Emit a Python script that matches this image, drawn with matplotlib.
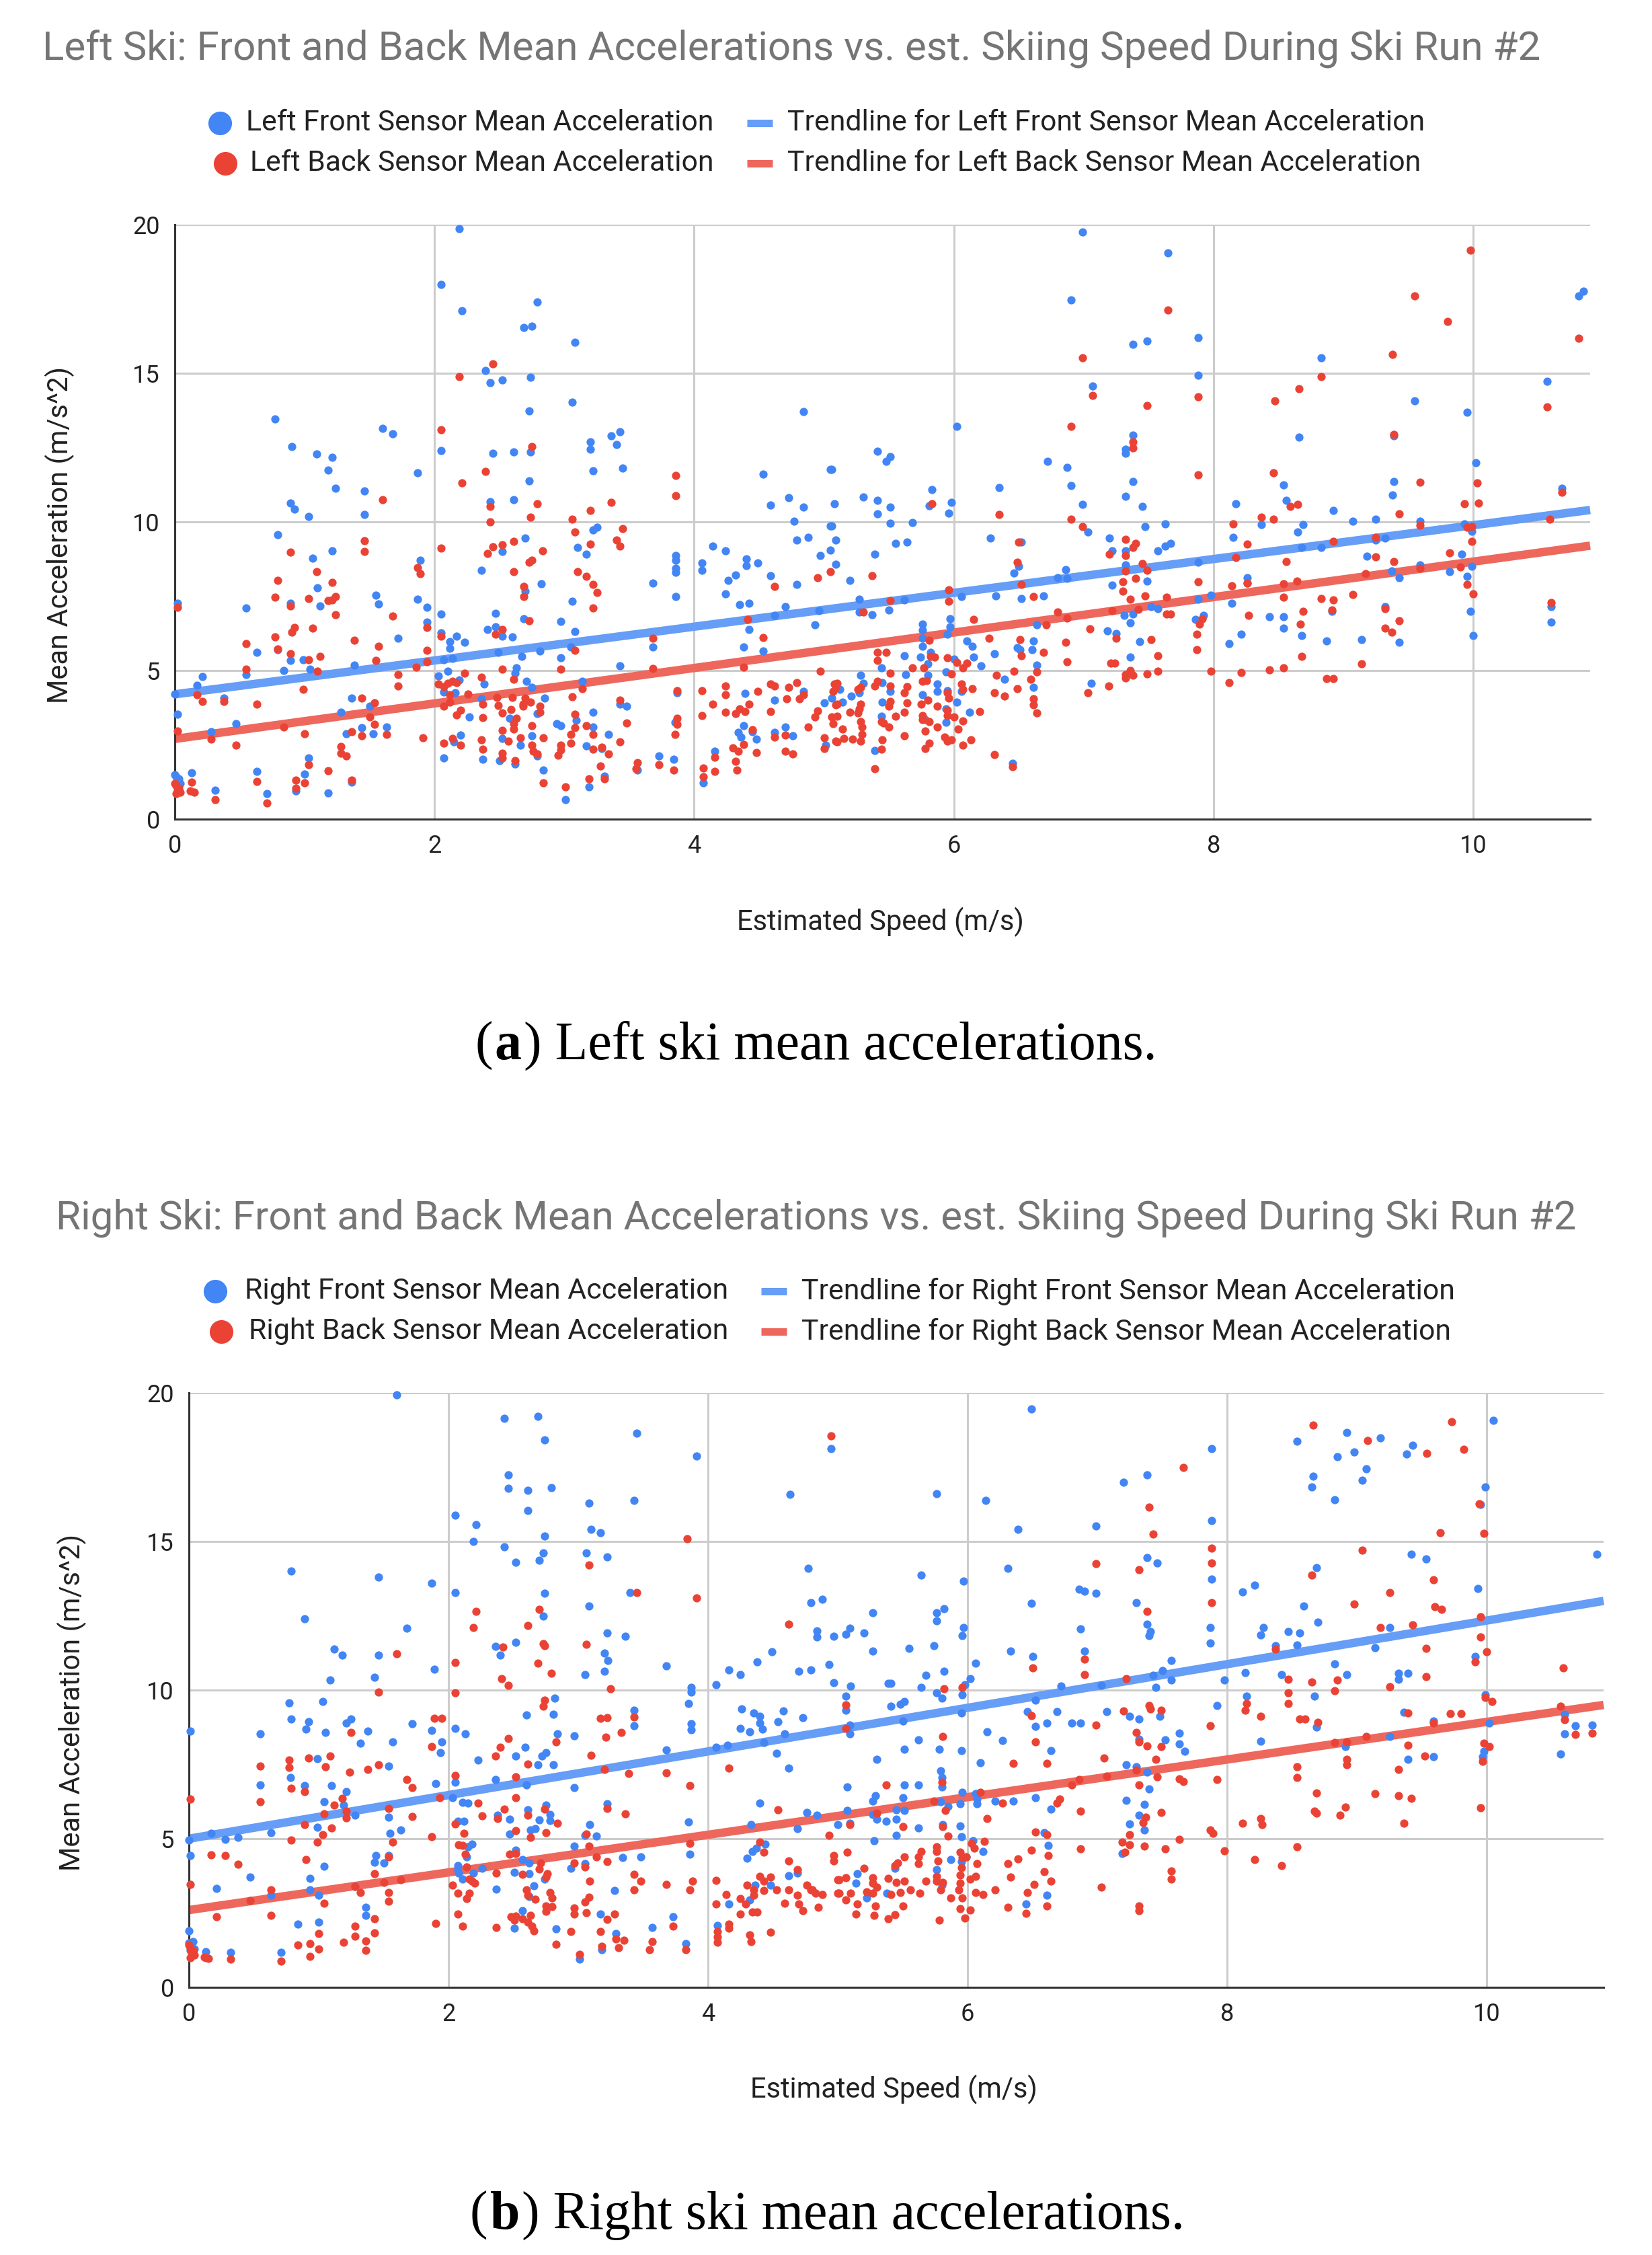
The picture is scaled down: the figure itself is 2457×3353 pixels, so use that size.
import numpy as np
import matplotlib.pyplot as plt

plt.switch_backend('agg')

# values, (speed, acceleration)
left_front = [
 (2.19,19.86),(2.05,17.98),(2.21,17.1),(2.79,17.4),(2.69,16.53),(2.75,16.58),(3.08,16.04),(2.39,15.1),(2.43,14.69),(2.52,14.77),
 (2.74,14.87),(3.06,14.02),(2.73,13.74),(0.77,13.47),(1.6,13.15),(1.68,12.97),(0.9,12.53),(1.09,12.29),(1.21,12.17),(1.18,11.74),
 (1.24,11.14),(1.46,11.04),(1.46,10.24),(0.89,10.64),(0.92,10.42),(1.03,10.17),(0.79,9.56),(1.06,8.78),(1.21,9.02),(1.87,11.65),
 (1.89,8.72),(2.05,12.39),(2.45,12.3),(2.61,12.36),(2.74,12.35),(3.2,12.69),(3.2,12.44),(3.36,12.9),(3.43,13.04),(3.4,12.61),
 (3.22,11.72),(3.45,11.81),(2.73,11.39),(2.43,10.69),(2.61,10.75),(2.7,9.45),(2.52,9.01),(3.22,9.73),(3.25,9.81),(3.1,9.13),
 (3.17,8.91),(2.36,8.37),(2.7,7.68),(2.82,7.92),(3.06,7.34),(3.68,7.93),(3.86,8.86),(3.86,8.72),(3.86,8.44),(3.86,8.3),
 (3.86,7.5),(4.06,8.61),(4.06,8.37),(4.14,9.19),(4.24,9.02),(4.4,8.75),(4.4,8.53),(4.49,8.62),(4.32,8.21),(4.26,8.03),
 (4.24,7.58),(4.35,7.21),(4.42,7.27),(4.59,8.19),(4.79,7.9),(4.7,7.16),(4.62,6.85),(4.96,7.02),(4.93,6.53),(4.53,11.6),
 (4.59,10.57),(4.73,10.82),(4.84,10.5),(5.05,11.76),(5.08,10.62),(4.77,10.02),(5.05,9.87),(4.79,9.38),(4.88,9.47),(5.09,9.38),
 (5.05,9.04),(4.97,8.86),(5.09,8.58),(4.84,13.7),(0.55,7.1),(0.89,7.27),(1.12,7.18),(1.1,7.78),(1.55,7.53),(1.57,7.24),
 (1.87,7.4),(1.94,7.13),(2.05,6.89),(1.94,6.64),(2.47,6.92),(2.69,6.75),(2.97,6.66),(3.08,6.31),(2.41,6.39),(2.47,6.46),
 (2.05,6.27),(2.17,6.15),(1.72,6.09),(2.12,5.98),(2.23,5.94),(2.52,6.15),(2.6,6.12),(2.12,5.74),(3.05,5.8),(3.68,5.8),
 (4.42,6.39),(4.38,5.79),(4.53,5.66),(0.63,5.62),(0.79,5.7),(0.89,5.33),(0.99,5.37),(2.07,5.37),(2.14,5.4),(2.49,5.6),
 (2.67,5.48),(2.81,5.66),(2.97,5.43),(1.38,5.19),(0.84,5.0),(1.04,5.05),(0.21,4.8),(0.55,4.87),(0.17,4.5),(3.43,5.15),
 (2.63,5.09),(2.1,4.98),(2.03,4.82),(2.19,4.68),(2.38,4.54),(2.71,4.64),(2.62,4.91),(3.14,4.64),(2.75,4.43),(2.07,4.28),
 (2.16,4.25),(2.85,4.08),(0.38,4.08),(1.36,4.08),(2.36,4.06),(3.43,3.88),(3.48,3.81),(1.5,3.81),(1.28,3.6),(0.02,3.53),
 (2.27,3.43),(2.58,3.39),(2.79,3.56),(3.22,3.6),(2.94,3.21),(2.97,3.14),(3.09,3.32),(0.47,3.21),(1.44,3.07),(1.63,3.1),
 (0.28,2.93),(1.32,2.88),(1.53,2.88),(3.22,3.1),(3.34,2.85),(2.2,2.82),(2.52,2.71),(2.75,2.8),(2.15,2.6),(2.66,2.49),
 (3.17,2.46),(3.29,2.38),(2.07,2.06),(2.37,2.01),(2.5,1.97),(2.62,1.85),(2.79,2.12),(2.84,1.66),(1.03,2.05),(0.63,1.61),
 (0.13,1.55),(1.0,1.52),(3.73,2.12),(3.84,2.01),(3.56,1.66),(4.07,1.22),(4.16,2.28),(3.01,0.65),(3.19,1.08),(1.18,0.89),
 (0.71,0.86),(0.31,0.97),(0.93,0.94),(1.36,1.25),(3.31,1.45),(4.38,3.15),(4.34,2.91),(4.36,2.77),(4.45,2.93),(4.48,2.7),
 (4.62,4.01),(4.7,3.09),(4.62,2.91),(4.76,2.8),(4.39,4.22),(4.84,4.29),(5.0,3.92),(5.06,4.08),(5.12,4.36),(5.01,2.49),
 (3.87,4.26),(3.85,3.25),(0.02,7.27),(0.0,1.5),(0.01,1.42),(0.03,1.35),(0.02,1.28),(0.04,1.2),(0.0,4.2),
 (6.99,19.75),(7.65,19.06),(6.9,17.47),(7.38,15.98),(7.49,16.09),(7.88,16.21),(7.88,14.94),(7.07,14.56),(8.83,15.53),(10.57,14.73),
 (9.55,14.07),(9.95,13.68),(10.81,17.6),(10.85,17.76),(6.02,13.21),(7.38,12.92),(7.32,12.45),(7.32,12.31),(8.66,12.85),(6.72,12.03),
 (6.87,11.84),(5.41,12.38),(5.51,12.2),(5.48,12.03),(5.06,11.76),(10.02,11.98),(9.39,12.89),(7.38,11.36),(6.9,11.23),(6.35,11.16),
 (5.83,11.08),(8.54,11.24),(9.39,11.36),(9.38,10.91),(10.68,11.12),(7.32,10.87),(5.3,10.84),(5.41,10.72),(5.98,10.66),(5.81,10.55),
 (5.51,10.5),(5.41,10.28),(5.96,10.3),(6.99,10.58),(7.45,10.51),(8.17,10.61),(8.56,10.72),(8.92,10.39),(5.51,9.96),(5.68,9.97),
 (5.06,9.86),(7.47,9.85),(7.63,9.93),(8.37,9.92),(8.69,9.92),(9.07,10.03),(9.25,10.1),(9.59,10.03),(9.93,9.93),(9.99,9.68),
 (8.65,9.65),(7.03,9.67),(8.15,9.49),(7.2,9.45),(6.28,9.45),(6.52,9.31),(5.64,9.32),(5.55,9.27),(9.32,9.45),(9.25,9.38),
 (7.67,9.28),(7.63,9.18),(7.57,9.02),(7.22,9.02),(7.32,9.02),(5.39,8.92),(8.68,9.13),(8.83,9.13),(9.18,8.85),(9.91,8.92),
 (7.88,8.64),(6.5,8.5),(6.46,8.27),(7.32,8.55),(6.86,8.4),(6.8,8.12),(6.87,8.09),(5.2,8.04),(7.49,8.02),(7.22,7.88),
 (8.26,8.12),(8.26,7.95),(9.59,8.55),(9.37,8.34),(9.43,8.12),(9.82,8.33),(9.99,8.5),(9.95,8.17),(6.32,7.52),(6.06,7.5),
 (6.52,7.43),(6.69,7.51),(5.62,7.37),(5.27,7.39),(7.98,7.54),(7.88,7.39),(8.14,7.26),(5.5,7.03),(5.27,6.97),(5.37,6.87),
 (7.52,7.15),(7.57,7.08),(9.32,7.14),(8.91,6.98),(9.98,6.98),(10.6,7.16),(7.92,6.85),(7.86,6.72),(8.43,6.8),(8.54,6.8),
 (8.54,6.42),(7.38,6.89),(7.31,6.85),(7.36,6.6),(5.76,6.57),(5.97,6.74),(5.97,6.47),(5.76,6.36),(6.64,6.53),(10.6,6.63),
 (7.18,6.33),(7.25,6.25),(5.95,6.22),(5.76,6.09),(8.21,6.22),(8.68,6.17),(10.0,6.18),(8.87,6.0),(9.14,6.04),(6.1,6.0),
 (6.61,5.99),(7.43,5.98),(8.12,5.91),(9.43,5.96),(6.14,5.81),(6.49,5.78),(6.6,5.7),(6.51,5.71),(5.76,5.81),(5.82,5.6),
 (6.31,5.56),(5.62,5.5),(5.74,5.46),(6.15,5.45),(7.36,5.45),(6.0,5.39),(6.21,5.16),(6.64,5.19),(5.44,5.1),(5.8,5.23),
 (5.63,4.87),(5.28,4.84),(5.94,4.95),(5.8,4.84),(6.39,4.7),(5.3,4.56),(5.45,4.59),(5.87,4.54),(7.06,4.58),(6.61,4.43),
 (5.51,4.29),(5.27,4.25),(5.76,4.18),(5.87,4.29),(6.06,4.29),(5.21,4.15),(5.95,4.33),(5.14,3.93),(5.45,3.94),(6.02,3.94),
 (5.94,3.71),(6.12,3.6),(5.44,3.46),(5.78,3.35),(5.94,3.25),(5.39,2.3),(6.45,1.87),
]
left_back = [
 (2.45,15.32),(2.19,14.89),(2.05,13.09),(2.75,12.53),(2.39,11.7),(2.21,11.32),(3.86,11.56),(3.86,10.89),(1.6,10.75),(2.43,10.53),
 (2.79,10.62),(3.36,10.66),(3.2,10.38),(2.74,10.15),(2.43,10.0),(3.06,10.08),(3.08,9.66),(3.45,9.77),(3.4,9.4),(3.43,9.19),
 (3.2,9.26),(1.46,9.36),(1.46,9.0),(0.89,8.98),(2.61,9.34),(2.52,9.23),(2.45,9.16),(2.41,8.94),(2.05,9.11),(2.83,9.02),
 (2.75,8.72),(2.73,8.64),(1.87,8.47),(1.89,8.25),(1.09,8.33),(2.61,8.32),(3.1,8.32),(3.17,8.17),(0.79,8.03),(1.21,7.96),
 (3.22,7.89),(3.25,7.63),(2.69,7.83),(2.69,7.5),(0.77,7.46),(1.03,7.42),(1.18,7.35),(1.21,7.38),(1.24,7.49),(0.89,7.17),
 (0.02,7.13),(3.22,7.1),(1.24,6.88),(1.68,6.84),(2.73,6.67),(4.41,6.73),(4.62,7.82),(4.95,8.12),(5.05,8.32),(1.06,6.42),
 (0.92,6.45),(0.9,6.3),(1.94,6.44),(2.52,6.39),(2.47,6.23),(2.05,6.16),(0.77,6.12),(1.38,6.01),(3.68,6.09),(4.53,6.1),
 (0.55,5.91),(1.57,5.81),(0.79,5.73),(1.94,5.67),(3.08,5.67),(0.89,5.56),(1.12,5.48),(1.03,5.36),(1.55,5.34),(1.94,5.29),
 (1.86,5.11),(0.55,5.05),(1.1,4.98),(2.52,5.04),(2.97,5.04),(3.68,5.07),(4.38,5.11),(4.97,4.98),(2.23,4.91),(1.72,4.86),
 (2.36,4.78),(2.61,4.71),(2.03,4.54),(2.07,4.46),(2.1,4.57),(2.14,4.64),(2.17,4.6),(1.72,4.47),(0.99,4.37),(3.14,4.39),
 (3.87,4.32),(4.06,4.32),(4.24,4.47),(4.59,4.54),(4.62,4.48),(4.73,4.43),(4.79,4.6),(4.49,4.29),(4.84,4.19),(5.07,4.29),
 (5.08,4.54),(0.17,4.19),(2.26,4.21),(2.12,4.18),(4.24,4.18),(0.21,3.96),(0.38,3.96),(1.44,4.08),(1.54,3.92),(0.63,3.88),
 (2.12,3.94),(2.07,3.79),(2.37,3.86),(2.48,4.1),(2.49,3.82),(2.6,4.1),(2.68,3.88),(2.7,4.08),(2.74,3.94),(2.81,3.81),
 (2.81,3.6),(3.06,4.11),(3.43,4.01),(4.14,3.88),(4.42,3.88),(4.71,4.04),(4.81,4.04),(4.95,3.65),(5.1,3.88),(5.06,3.43),
 (5.1,3.46),(2.2,3.67),(2.17,3.5),(2.52,3.58),(2.59,3.68),(2.68,3.81),(2.37,3.42),(2.63,3.39),(2.61,3.21),(3.08,3.52),
 (4.06,3.49),(4.24,3.6),(4.32,3.56),(4.35,3.71),(4.39,3.63),(4.59,3.63),(4.93,3.43),(1.5,3.43),(3.48,3.24),(3.87,3.39),
 (3.87,3.18),(2.75,3.14),(2.61,3.04),(3.17,3.14),(3.08,3.07),(0.84,3.09),(1.54,3.18),(0.02,2.96),(0.28,2.7),(1.0,2.88),
 (1.36,2.95),(1.44,2.8),(1.63,2.86),(1.91,2.74),(2.14,2.71),(2.52,2.99),(2.57,2.63),(2.66,2.74),(2.84,2.74),(3.05,2.84),
 (3.05,2.56),(3.22,2.84),(3.85,2.85),(4.45,3.02),(4.62,2.77),(4.7,2.82),(4.88,3.11),(5.0,2.73),(5.09,2.62),(2.36,2.67),
 (2.07,2.55),(2.2,2.49),(0.47,2.49),(1.28,2.45),(3.43,2.6),(4.38,2.52),(4.3,2.39),(2.37,2.35),(1.28,2.21),(1.32,2.12),
 (2.75,2.49),(2.76,2.28),(2.97,2.49),(2.97,2.33),(2.95,2.16),(3.22,2.35),(3.29,2.42),(3.34,2.19),(4.34,2.28),(4.48,2.25),
 (4.7,2.28),(4.76,2.19),(5.0,2.38),(2.52,2.21),(2.52,2.05),(2.79,2.19),(4.16,2.08),(3.28,1.79),(2.62,1.97),(4.32,1.94),
 (3.56,1.91),(3.73,1.84),(3.84,1.66),(3.55,1.69),(4.07,1.73),(4.33,1.66),(4.16,1.61),(1.03,1.84),(1.18,1.63),(0.13,1.25),
 (0.63,1.27),(0.93,1.31),(1.0,1.22),(1.36,1.31),(2.84,1.23),(3.31,1.36),(3.19,1.36),(0.93,1.04),(0.12,0.94),(0.15,0.9),
 (3.01,1.08),(4.07,1.43),(0.31,0.66),(0.71,0.54),(0.0,1.2),(0.01,1.12),(0.03,1.05),(0.02,0.98),(0.04,0.9),(0.01,0.85),
 (9.98,19.13),(9.55,17.6),(9.8,16.75),(7.65,17.12),(10.81,16.18),(9.38,15.64),(6.99,15.53),(8.83,14.88),(8.66,14.47),(7.07,14.25),
 (7.88,14.2),(8.47,14.08),(7.49,13.91),(10.57,13.87),(6.9,13.22),(9.39,12.95),(7.38,12.7),(7.38,12.49),(7.88,11.58),(8.46,11.65),
 (9.59,11.33),(10.03,11.31),(10.68,11.0),(5.83,10.61),(9.93,10.61),(10.04,10.64),(8.59,10.53),(8.65,10.58),(6.35,10.26),(9.43,10.28),
 (6.9,10.1),(8.37,10.15),(8.46,10.08),(10.59,10.08),(8.15,9.93),(9.59,9.88),(6.99,9.85),(9.95,9.82),(9.99,9.85),(9.25,9.49),
 (7.32,9.42),(6.5,9.32),(7.4,9.27),(7.38,9.13),(8.26,9.25),(8.92,9.35),(9.99,9.34),(9.82,8.95),(7.2,8.91),(7.32,8.88),
 (8.17,8.8),(9.25,8.82),(6.49,8.64),(8.56,8.67),(9.39,8.67),(7.45,8.6),(9.9,8.48),(9.59,8.45),(7.32,8.34),(7.49,8.37),
 (5.37,8.2),(9.17,8.26),(7.4,8.09),(7.3,7.99),(7.88,7.99),(8.54,7.91),(8.64,8.01),(8.26,7.94),(8.14,7.84),(6.52,7.9),
 (9.95,7.9),(5.96,7.72),(7.3,7.68),(10.0,7.59),(6.61,7.5),(7.47,7.51),(7.64,7.47),(7.36,7.39),(5.51,7.36),(5.96,7.32),
 (8.54,7.46),(8.83,7.43),(8.92,7.37),(9.07,7.55),(10.6,7.29),(7.42,7.05),(9.32,7.08),(8.91,7.04),(8.69,6.98),(5.3,6.97),
 (6.8,6.97),(7.22,7.01),(7.64,6.89),(7.67,6.89),(8.27,6.85),(7.91,6.75),(7.89,6.57),(6.87,6.76),(6.15,6.72),(9.43,6.67),
 (8.67,6.57),(6.71,6.53),(7.05,6.4),(9.32,6.43),(9.37,6.29),(7.87,6.22),(6.27,6.09),(5.81,6.02),(6.51,6.04),(7.25,6.09),
 (7.52,6.04),(6.86,5.95),(7.87,5.71),(5.41,5.6),(5.48,5.62),(7.57,5.5),(6.52,5.5),(6.69,5.6),(5.41,5.35),(5.82,5.48),
 (5.85,5.46),(5.95,5.44),(6.02,5.28),(6.1,5.26),(6.07,5.08),(6.87,5.3),(7.21,5.26),(7.24,5.24),(8.68,5.48),(9.14,5.23),
 (5.68,5.08),(5.77,5.08),(5.51,4.9),(5.98,4.88),(6.46,4.98),(6.64,4.95),(6.33,4.84),(6.59,4.7),(7.36,5.0),(7.32,4.87),
 (7.32,4.74),(7.38,4.84),(7.49,4.88),(7.57,4.98),(7.98,4.98),(8.21,4.94),(8.43,5.02),(8.54,5.1),(8.12,4.59),(8.87,4.72),
 (8.92,4.72),(5.1,4.56),(5.09,4.43),(5.41,4.63),(5.39,4.49),(5.51,4.49),(5.28,4.43),(5.26,4.36),(5.64,4.45),(5.62,4.26),
 (5.76,4.63),(5.79,4.67),(5.95,4.26),(5.96,4.08),(6.06,4.54),(6.14,4.4),(6.07,4.36),(6.31,4.25),(6.39,4.14),(6.49,4.4),
 (7.03,4.25),(7.19,4.47),(6.61,4.04),(6.61,3.85),(6.64,3.57),(5.09,3.85),(5.28,3.87),(5.27,3.71),(5.2,3.6),(5.26,3.57),
 (5.5,3.8),(5.51,3.97),(5.64,3.91),(5.62,3.6),(5.75,3.87),(5.8,4.01),(5.87,3.8),(5.95,3.67),(5.95,3.49),(6.2,3.62),
 (5.07,3.22),(5.28,3.29),(5.29,3.11),(5.44,3.29),(5.46,3.24),(5.5,3.1),(5.55,3.46),(5.76,3.49),(5.76,3.35),(5.81,3.29),
 (5.87,3.1),(6.0,3.43),(6.07,3.31),(5.14,3.04),(5.78,2.96),(5.62,2.81),(5.29,2.84),(5.15,2.72),(5.22,2.7),(5.1,2.6),
 (5.28,2.63),(5.45,2.68),(5.44,2.35),(5.81,2.56),(5.78,2.38),(5.93,2.77),(5.95,2.63),(5.98,2.66),(6.03,3.04),(6.13,2.67),
 (6.07,2.49),(6.31,2.17),(5.39,1.69),(6.45,1.77),
]
right_front = [
 (1.6,19.93),(2.43,19.14),(2.69,19.2),(2.74,18.42),(3.45,18.64),(3.91,17.87),(2.46,17.23),(2.46,16.78),(2.61,16.73),(2.79,16.8),
 (3.08,16.28),(3.43,16.37),(2.61,16.03),(2.05,15.89),(2.21,15.56),(3.1,15.4),(3.17,15.29),(2.74,15.18),(2.19,15.0),(2.43,14.82),
 (2.73,14.62),(3.06,14.62),(3.22,14.48),(2.7,14.37),(2.52,14.3),(0.79,14.01),(1.46,13.79),(1.87,13.59),(2.05,13.27),(2.74,13.25),
 (3.4,13.29),(3.08,12.82),(2.73,12.48),(0.89,12.39),(1.68,12.08),(3.22,11.92),(3.36,11.81),(2.52,11.61),(2.36,11.47),(1.12,11.39),
 (1.18,11.17),(2.4,11.18),(1.46,11.17),(3.2,11.25),(3.23,11.0),(1.89,10.71),(3.2,10.63),(3.68,10.82),(3.05,10.53),(1.43,10.44),
 (1.09,10.33),(3.87,10.08),(3.87,9.94),(3.85,9.55),(4.06,10.19),(4.16,10.69),(4.25,10.53),(4.38,10.96),(4.49,11.28),(4.63,16.58),
 (4.95,18.12),(4.77,14.1),(4.88,13.05),(4.79,12.93),(4.84,11.99),(4.84,11.78),(4.97,11.81),(4.7,10.64),(4.79,10.67),(4.93,10.85),
 (4.97,10.26),(2.82,9.72),(0.77,9.56),(1.03,9.61),(2.6,9.16),(2.81,9.19),(3.43,9.31),(0.79,9.02),(1.25,9.02),(1.21,8.89),
 (0.92,8.93),(0.9,8.69),(1.72,8.87),(3.87,8.86),(3.43,8.8),(3.87,8.66),(0.01,8.62),(0.55,8.53),(1.05,8.58),(1.38,8.62),
 (1.87,8.65),(2.05,8.72),(2.13,8.53),(2.84,8.53),(2.97,8.46),(1.57,8.26),(1.32,8.21),(1.95,8.25),(1.94,7.9),(2.59,8.08),
 (2.75,7.9),(2.72,7.79),(2.52,7.79),(2.23,7.64),(3.68,7.99),(0.99,7.7),(1.54,7.45),(2.69,7.5),(2.81,7.5),(4.26,9.36),
 (4.35,9.23),(4.4,9.11),(4.4,8.9),(4.42,8.69),(4.54,8.93),(4.58,9.3),(4.73,9.07),(4.25,8.71),(4.32,8.6),(4.59,8.54),
 (4.43,8.24),(4.53,7.88),(4.62,7.38),(4.06,8.07),(4.15,8.15),(0.78,7.07),(2.36,6.99),(2.05,6.89),(1.9,6.85),(2.6,6.82),
 (0.55,6.81),(0.89,6.78),(1.1,6.78),(2.97,6.71),(1.21,6.59),(2.03,6.39),(2.11,6.23),(2.15,6.19),(1.04,6.24),(1.19,6.12),
 (2.75,6.12),(3.22,6.17),(4.4,6.19),(2.61,5.98),(4.76,5.88),(4.84,5.79),(2.38,5.79),(2.78,5.81),(1.28,5.8),(1.54,5.72),
 (2.07,5.59),(2.12,5.59),(2.47,5.65),(2.78,5.62),(2.7,5.63),(3.85,5.56),(3.09,5.48),(0.99,5.38),(1.63,5.3),(2.63,5.3),
 (2.67,5.33),(4.33,5.47),(4.69,5.34),(5.0,5.48),(0.17,5.18),(0.63,5.2),(1.55,5.19),(2.47,5.15),(3.05,5.12),(3.14,5.09),
 (0.28,4.98),(0.38,5.04),(0.0,4.96),(2.18,4.82),(2.15,4.73),(2.97,4.76),(4.44,4.82),(4.37,4.68),(4.34,4.58),(0.01,4.43),
 (1.54,4.43),(1.44,4.43),(1.43,4.21),(1.5,4.18),(3.86,4.48),(3.34,4.37),(3.48,4.39),(2.52,4.61),(2.14,4.4),(4.3,4.35),
 (2.57,4.29),(2.62,4.19),(3.05,4.17),(1.04,4.07),(2.07,4.1),(2.07,3.96),(2.26,4.0),(2.94,4.0),(2.08,3.85),(2.19,3.85),
 (2.51,3.88),(2.62,3.83),(2.11,3.65),(2.74,3.64),(0.47,3.72),(0.93,3.67),(4.62,3.75),(4.69,3.85),(2.66,3.42),(0.21,3.32),
 (1.28,3.4),(0.93,3.29),(2.37,3.31),(3.28,3.25),(4.48,3.43),(4.36,3.43),(0.63,3.11),(1.0,3.09),(2.62,3.06),(4.32,2.95),
 (4.16,2.8),(1.36,2.69),(1.36,2.42),(2.57,2.57),(3.17,2.46),(3.73,2.37),(0.84,2.12),(1.0,2.2),(4.07,2.09),(0.0,1.9),
 (3.57,2.02),(2.83,1.97),(2.51,1.99),(3.29,1.81),(0.03,1.54),(0.13,1.19),(0.32,1.18),(0.71,1.18),(3.83,1.47),(3.18,1.26),
 (3.01,0.94),(0.0,1.5),(0.02,1.4),(0.04,1.3),(0.01,1.25),
 (6.49,19.46),(10.05,19.07),(8.54,18.38),(8.92,18.67),(9.18,18.48),(7.88,18.12),(8.85,17.84),(8.98,18.0),(9.38,17.94),(9.43,18.23),
 (8.66,17.2),(8.65,16.84),(9.07,17.45),(9.04,17.07),(7.38,17.25),(7.2,17.0),(9.99,16.84),(5.76,16.61),(6.14,16.39),(8.83,16.4),
 (9.95,16.24),(7.88,15.7),(6.39,15.4),(6.99,15.52),(10.85,14.56),(9.42,14.57),(9.53,14.42),(7.38,14.46),(7.46,14.28),(6.31,14.09),
 (8.69,14.12),(5.64,13.88),(5.97,13.67),(7.88,13.74),(6.86,13.4),(6.9,13.33),(6.99,13.25),(8.21,13.52),(8.12,13.3),(9.93,13.41),
 (6.49,12.91),(7.3,12.94),(5.27,12.6),(5.76,12.61),(5.82,12.73),(5.76,12.33),(8.59,12.83),(8.7,12.29),(5.97,12.11),(5.09,12.08),
 (6.87,12.07),(7.38,12.21),(7.41,11.96),(7.4,11.83),(5.96,11.83),(5.06,11.88),(5.2,11.92),(7.87,12.11),(8.28,12.11),(8.26,11.85),
 (8.47,11.96),(8.56,11.93),(8.54,11.52),(9.25,12.1),(8.37,11.49),(9.14,11.42),(5.27,11.31),(5.55,11.4),(5.74,11.49),(6.33,11.32),
 (6.5,11.13),(6.9,11.31),(7.87,11.58),(7.57,11.0),(9.91,11.14),(8.83,10.88),(6.06,10.91),(5.82,10.64),(5.68,10.5),(8.14,10.59),
 (8.42,10.52),(8.92,10.51),(9.32,10.56),(9.32,10.37),(9.39,10.57),(7.5,10.66),(7.43,10.49),(7.57,10.33),(7.98,10.35),(5.39,10.23),
 (5.41,10.23),(6.02,10.38),(5.98,10.17),(5.64,10.1),(5.1,10.13),(6.72,10.13),(7.03,10.15),(7.45,10.1),(5.06,9.8),(5.76,9.9),
 (5.8,9.72),(5.96,9.85),(6.52,9.67),(8.15,9.8),(8.67,9.8),(9.99,9.85),(5.41,9.45),(5.48,9.52),(5.51,9.62),(7.92,9.47),
 (5.06,9.31),(5.95,9.22),(6.46,9.27),(6.69,9.27),(7.07,9.27),(9.36,9.25),(7.25,9.11),(7.32,9.02),(7.48,9.11),(5.5,8.96),
 (6.61,8.9),(6.8,8.9),(6.87,8.9),(5.09,8.83),(6.52,8.78),(9.59,8.97),(10.02,8.9),(10.6,9.18),(8.69,8.75),(10.68,8.79),
 (10.81,8.83),(6.15,8.6),(5.09,8.53),(7.63,8.55),(10.6,8.53),(5.62,8.33),(6.27,8.3),(7.32,8.35),(7.52,8.32),(8.26,8.28),
 (7.63,8.18),(9.25,8.44),(8.91,8.11),(7.67,7.93),(5.51,8.01),(5.78,8.0),(5.95,7.96),(6.64,7.96),(10.57,7.85),(9.59,7.76),
 (9.39,7.68),(9.98,7.93),(9.97,7.75),(5.3,7.67),(6.1,7.56),(7.22,7.49),(7.3,7.42),(7.38,7.24),(5.79,7.29),(5.8,7.06),
 (5.07,6.75),(5.51,6.8),(5.62,6.82),(5.8,6.75),(7.4,6.67),(5.96,6.55),(6.06,6.52),(5.5,6.38),(5.29,6.44),(5.27,6.26),
 (5.79,6.24),(6.07,6.34),(6.07,6.17),(6.21,6.27),(6.35,6.27),(6.52,6.39),(5.85,6.09),(5.94,6.17),(7.22,6.3),(7.36,6.16),
 (6.64,5.99),(5.07,5.95),(5.45,5.98),(5.51,5.94),(5.27,5.81),(5.3,5.65),(5.37,5.58),(5.45,5.65),(7.32,5.8),(5.09,5.51),
 (5.81,5.47),(5.94,5.44),(5.62,5.36),(7.25,5.49),(7.36,5.3),(5.45,5.11),(5.95,5.07),(5.28,4.93),(6.04,4.93),(6.59,5.2),
 (6.62,4.78),(6.12,4.57),(7.19,4.51),(5.87,4.29),(5.99,4.4),(5.95,4.24),(5.76,3.96),(5.44,4.01),(5.15,3.82),(5.14,3.5),
 (5.8,3.43),(5.38,3.16),(5.22,3.02),(6.61,3.11),(6.45,2.8),
]
right_back = [
 (4.95,18.56),(3.84,15.09),(3.08,14.2),(3.45,13.27),(3.91,13.11),(2.7,12.71),(2.21,12.65),(4.62,12.21),(2.61,12.18),(2.19,12.11),
 (2.42,11.45),(2.73,11.56),(2.74,11.49),(3.06,11.53),(1.6,11.22),(2.05,10.93),(2.69,10.91),(2.79,10.57),(2.41,10.38),(2.46,10.15),
 (3.25,10.05),(1.46,9.94),(2.05,9.92),(2.74,9.67),(2.73,9.45),(3.17,9.04),(3.22,9.08),(1.89,9.04),(1.95,9.04),(3.43,9.09),
 (1.25,8.57),(3.33,8.58),(3.21,8.42),(2.46,8.36),(2.83,8.26),(1.87,8.11),(2.4,8.08),(2.36,7.79),(3.1,7.81),(1.09,7.79),
 (0.92,7.71),(0.77,7.65),(0.55,7.45),(0.77,7.39),(1.05,7.43),(1.46,7.5),(1.38,7.34),(2.61,7.52),(4.16,7.38),(1.24,7.25),
 (3.2,7.34),(3.39,7.2),(3.68,7.21),(2.05,7.13),(2.52,7.09),(1.68,6.98),(1.72,6.71),(3.86,6.78),(0.79,6.7),(0.89,6.59),
 (0.01,6.34),(1.18,6.35),(2.52,6.39),(1.93,6.37),(0.55,6.24),(2.23,6.2),(1.12,6.12),(1.54,6.01),(2.43,5.99),(2.74,5.99),
 (3.22,6.01),(4.54,5.98),(1.21,5.92),(1.04,5.84),(1.21,5.7),(1.72,5.74),(2.26,5.77),(2.38,5.67),(2.61,5.79),(3.36,5.83),
 (2.84,5.51),(0.89,5.48),(2.05,5.49),(1.1,5.37),(2.52,5.27),(2.75,5.2),(2.12,5.18),(1.03,5.13),(1.87,5.07),(2.63,5.05),
 (3.06,5.15),(4.93,5.12),(0.79,4.96),(0.99,4.89),(1.57,4.89),(3.86,4.84),(4.4,4.89),(2.08,4.8),(2.11,4.78),(3.08,4.75),
 (2.47,4.47),(2.52,4.51),(4.43,4.54),(0.17,4.46),(0.28,4.44),(2.13,4.47),(1.54,4.4),(3.14,4.4),(0.9,4.3),(4.97,4.43),
 (4.97,4.26),(4.62,4.26),(3.22,4.24),(2.97,4.19),(2.71,4.19),(0.38,4.14),(3.05,4.04),(2.14,4.06),(2.7,3.99),(4.69,3.96),
 (2.37,3.85),(2.57,3.79),(1.43,3.82),(2.76,3.82),(3.43,3.81),(2.75,3.71),(2.16,3.64),(2.2,3.5),(2.18,3.57),(1.63,3.63),
 (0.01,3.46),(2.03,3.43),(1.28,3.4),(1.5,3.53),(3.09,3.57),(3.48,3.57),(3.68,3.47),(3.88,3.57),(3.86,3.27),(4.06,3.6),
 (4.3,3.43),(4.4,3.74),(4.48,3.71),(4.43,3.57),(4.76,3.43),(5.0,3.61),(0.63,3.27),(2.6,3.27),(3.43,3.29),(1.54,3.2),
 (1.32,3.2),(2.07,3.16),(2.16,3.16),(2.61,3.09),(2.78,3.2),(4.14,3.13),(4.35,3.27),(4.43,3.25),(4.53,3.27),(4.62,3.27),
 (4.79,3.27),(4.83,3.16),(4.88,3.13),(5.0,3.16),(0.47,2.91),(2.14,2.98),(3.08,3.04),(2.8,3.02),(2.67,2.96),(3.05,2.88),
 (4.25,2.99),(4.35,3.09),(4.69,3.09),(1.54,2.89),(1.04,2.82),(2.8,2.71),(2.75,2.74),(4.29,2.81),(4.06,2.81),(4.59,2.82),
 (4.7,2.8),(4.85,2.69),(4.73,2.57),(2.75,2.55),(2.97,2.67),(2.97,2.46),(3.06,2.52),(2.07,2.46),(0.63,2.42),(0.21,2.37),
 (3.28,2.46),(3.22,2.28),(4.25,2.46),(4.34,2.53),(4.38,2.53),(2.48,2.37),(2.52,2.39),(2.63,2.42),(2.57,2.3),(2.61,2.19),
 (1.43,2.3),(1.9,2.15),(1.28,2.06),(2.11,2.06),(2.37,2.02),(2.51,2.27),(2.66,1.91),(2.64,2.05),(3.73,2.06),(1.0,1.81),
 (1.43,1.84),(2.94,1.87),(3.17,1.88),(4.07,1.88),(4.16,2.12),(4.16,1.99),(4.32,1.77),(4.48,1.85),(1.28,1.72),(4.07,1.7),
 (4.07,1.52),(3.29,1.63),(3.35,1.59),(4.33,1.54),(3.57,1.54),(1.19,1.51),(1.36,1.56),(0.84,1.43),(0.93,1.47),(2.83,1.45),
 (3.18,1.38),(1.0,1.3),(3.31,1.33),(1.36,1.25),(3.55,1.26),(3.83,1.26),(3.01,1.11),(0.93,1.05),(0.13,1.0),(0.32,0.96),
 (0.71,0.89),(0.0,1.42),(0.01,1.32),(0.03,1.24),(0.02,1.15),(0.04,1.08),(0.01,1.0),(0.12,1.02),(0.15,0.98),
 (8.66,18.92),(9.73,19.02),(9.08,18.39),(9.82,18.09),(9.54,17.97),(7.66,17.48),(7.4,16.15),(9.94,16.26),(9.64,15.29),(9.98,15.28),
 (7.43,15.24),(7.88,14.77),(9.04,14.7),(7.88,14.27),(6.99,14.26),(7.32,14.06),(8.65,13.87),(9.59,13.7),(9.25,13.27),(7.88,12.93),
 (8.98,12.89),(9.6,12.8),(9.65,12.72),(7.38,12.64),(9.95,12.46),(9.43,12.19),(9.18,12.1),(9.95,11.79),(8.37,11.38),(9.53,11.4),
 (10.0,11.29),(6.9,11.05),(9.91,10.96),(6.5,10.75),(10.59,10.75),(6.9,10.51),(7.22,10.38),(8.47,10.37),(8.65,10.27),(8.85,10.33),
 (9.53,10.45),(5.82,10.05),(5.96,10.08),(8.83,9.98),(9.25,10.12),(8.47,9.92),(9.99,9.74),(10.04,9.62),(5.06,9.51),(8.15,9.55),
 (8.47,9.55),(7.4,9.49),(7.41,9.37),(10.57,9.45),(7.49,9.31),(8.14,9.31),(7.2,9.29),(9.39,9.23),(9.72,9.2),(9.8,9.2),
 (6.49,9.13),(8.26,9.12),(8.56,9.02),(8.6,9.02),(8.7,8.91),(9.59,8.89),(10.6,9.01),(6.99,8.82),(7.87,8.79),(5.06,8.71),
 (7.3,8.57),(10.68,8.51),(10.81,8.55),(5.81,8.44),(9.07,8.44),(7.32,8.25),(6.52,8.26),(8.83,8.24),(8.92,8.25),(9.98,8.21),
 (10.02,8.11),(7.38,8.12),(7.49,8.1),(9.39,8.14),(9.52,7.78),(7.05,7.72),(7.45,7.67),(6.35,7.54),(6.61,7.54),(8.92,7.68),
 (8.92,7.49),(8.54,7.43),(9.97,7.6),(9.32,7.32),(7.3,7.31),(7.07,7.1),(7.46,7.09),(6.86,7.0),(7.63,7.02),(7.66,6.92),
 (7.92,7.0),(8.54,7.06),(6.8,6.82),(7.32,6.82),(5.37,6.8),(5.8,6.89),(6.1,6.57),(8.69,6.53),(9.14,6.51),(9.32,6.44),
 (9.42,6.35),(6.71,6.34),(6.69,6.2),(5.74,6.27),(6.27,6.19),(9.95,6.05),(8.91,6.06),(5.83,5.95),(6.87,5.92),(7.49,5.88),
 (8.67,5.92),(8.69,5.85),(8.87,5.8),(5.3,5.85),(6.15,5.69),(7.37,5.72),(8.26,5.69),(8.12,5.52),(8.27,5.47),(9.36,5.51),
 (7.35,5.54),(5.09,5.48),(5.5,5.4),(5.81,5.41),(7.87,5.3),(7.89,5.19),(6.52,5.23),(6.61,5.13),(5.85,5.08),(7.25,5.13),
 (6.13,4.91),(6.03,4.84),(6.05,4.68),(7.63,4.97),(7.19,4.89),(7.25,4.8),(7.36,4.76),(8.54,4.73),(6.62,4.44),(6.49,4.61),
 (6.87,4.65),(7.52,4.65),(7.21,4.54),(7.98,4.6),(5.07,4.54),(5.51,4.4),(5.64,4.57),(5.62,4.4),(5.76,4.72),(5.76,4.57),
 (5.77,4.26),(5.62,4.17),(5.46,4.19),(5.44,4.1),(5.94,4.54),(5.99,4.4),(5.96,4.37),(6.07,4.17),(6.31,4.17),(6.39,4.33),
 (8.21,4.29),(8.42,4.1),(5.2,4.01),(5.95,4.03),(6.59,3.89),(7.57,3.92),(7.57,3.64),(6.33,3.72),(6.06,3.74),(5.94,3.78),
 (6.02,3.64),(5.01,3.61),(5.06,3.68),(5.27,3.68),(5.27,3.5),(5.39,3.67),(5.45,3.53),(5.51,3.57),(5.68,3.57),(5.76,3.74),
 (5.76,3.57),(5.81,3.53),(5.94,3.5),(5.93,3.27),(6.64,3.57),(6.51,3.46),(6.21,3.28),(7.03,3.36),(4.8,3.27),(5.01,3.16),
 (5.1,3.16),(5.22,3.22),(5.3,3.36),(5.27,3.16),(5.41,3.13),(5.48,3.18),(5.56,3.29),(5.63,3.16),(5.79,3.27),(5.87,3.02),
 (5.96,3.02),(6.06,3.2),(6.12,3.13),(6.46,3.18),(5.06,2.95),(5.15,2.8),(5.29,2.74),(5.5,2.74),(5.94,2.64),(6.02,2.6),
 (6.31,2.7),(6.61,2.74),(5.14,2.46),(5.28,2.41),(5.44,2.44),(5.39,2.31),(5.78,2.26),(5.98,2.34),(6.45,2.48),(7.32,2.74),
 (7.32,2.59),
]

# trendline ends (speed, acceleration)
trend_x = [0, 10.9]
left_front_trend = [4.2, 10.4]
left_back_trend = [2.7, 9.2]
right_front_trend = [5.0, 13.0]
right_back_trend = [2.6, 9.5]

x_ticks = [0, 2, 4, 6, 8, 10]
y_ticks = [0, 5, 10, 15, 20]

BLUE = '#4285f4'
RED = '#ea4335'
BLUE_LINE = '#669df6'
RED_LINE = '#ee675c'
W, H = 2457, 3353

plt.rcParams['font.family'] = ['Roboto', 'DejaVu Sans']
fig = plt.figure(figsize=(W / 100, H / 100), dpi=100)

# overlay in pixel coordinates for the texts around the two charts
page = fig.add_axes([0, 0, 1, 1])
page.set_xlim(0, W)
page.set_ylim(H, 0)
page.axis('off')


def draw_panel(left, right, top, bottom, front, back, front_trend, back_trend):
    ax = fig.add_axes([left / W, 1 - bottom / H, (right - left) / W, (bottom - top) / H])
    ax.set_xlim(0, 10.9)
    ax.set_ylim(0, 20)
    ax.set_xticks(x_ticks)
    ax.set_yticks(y_ticks)
    ax.grid(True, color='#cccccc', linewidth=2.2)
    ax.set_axisbelow(True)
    for side in ['top', 'right']:
        ax.spines[side].set_visible(False)
    for side in ['left', 'bottom']:
        ax.spines[side].set_color('#333333')
        ax.spines[side].set_linewidth(2.2)
    ax.tick_params(length=0, labelsize=26, labelcolor='#222222', pad=16)
    ax.plot(trend_x, front_trend, color=BLUE_LINE, linewidth=9, solid_capstyle='butt', zorder=2, clip_on=False)
    ax.plot(trend_x, back_trend, color=RED_LINE, linewidth=9, solid_capstyle='butt', zorder=2, clip_on=False)
    fx, fy = np.array(front).T
    bx, by = np.array(back).T
    ax.scatter(fx, fy, s=78, color=BLUE, linewidths=0, zorder=3, clip_on=False)
    ax.scatter(bx, by, s=78, color=RED, linewidths=0, zorder=4, clip_on=False)
    return ax


def draw_texts(side, title_x, title_y, marker_xs, text_right, line_x, line_text_x, rows,
               xlabel_x, xlabel_y, ylabel_x, ylabel_y, cap_x, cap_y, letter, cap_rest):
    page.text(title_x, title_y, f'{side} Ski: Front and Back Mean Accelerations vs. est. Skiing Speed During Ski Run #2',
              fontsize=43.2, color='#757575', ha='center', va='center')
    names = ['Front', 'Back']
    dots = [BLUE, RED]
    lines = [BLUE_LINE, RED_LINE]
    for i in range(2):
        y = rows[i]
        page.scatter([marker_xs[i]], [y], s=640, color=dots[i], linewidths=0)
        page.text(text_right, y, f'{side} {names[i]} Sensor Mean Acceleration', fontsize=30.8,
                  color='#222222', ha='right', va='center')
        page.plot([line_x, line_x + 38], [y, y], color=lines[i], linewidth=8, solid_capstyle='butt')
        page.text(line_text_x, y, f'Trendline for {side} {names[i]} Sensor Mean Acceleration', fontsize=30.8,
                  color='#222222', ha='left', va='center')
    page.text(xlabel_x, xlabel_y, 'Estimated Speed (m/s)', fontsize=30, color='#222222', ha='center', va='center')
    page.text(ylabel_x, ylabel_y, 'Mean Acceleration (m/s^2)', fontsize=30, color='#222222', ha='center',
              va='center', rotation=90)
    # caption: bold letter in the middle of a serif line, same baseline
    renderer = fig.canvas.get_renderer()
    x = cap_x
    for part, weight in [('(', 'normal'), (letter, 'bold'), (cap_rest, 'normal')]:
        t = page.text(x, cap_y, part, fontsize=57.5, family='Liberation Serif', color='black',
                      va='baseline', ha='left', weight=weight)
        x += t.get_window_extent(renderer).width + 3


draw_panel(260, 2365, 334, 1218, left_front, left_back, left_front_trend, left_back_trend)
draw_panel(281, 2385, 2071, 2955, right_front, right_back, right_front_trend, right_back_trend)

draw_texts('Left', 1177, 72, [327, 335], 1061, 1111, 1171, [183, 243],
           1309, 1371, 89, 795, 706, 1575, 'a', ') Left ski mean accelerations.')
draw_texts('Right', 1214, 1811, [320, 329], 1083, 1132, 1192, [1920, 1980],
           1329, 3107, 107, 2531, 699, 3314, 'b', ') Right ski mean accelerations.')

plt.savefig('out.png', dpi=100)
